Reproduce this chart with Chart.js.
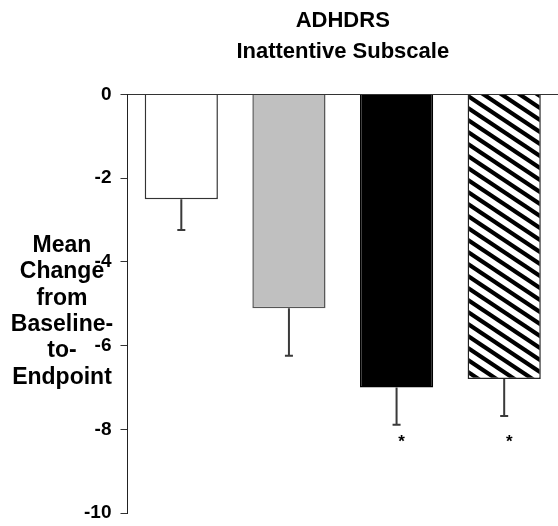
<!DOCTYPE html>
<html>
<head>
<meta charset="utf-8">
<script src="https://cdn.jsdelivr.net/npm/chart.js@4.4.0/dist/chart.umd.min.js"></script>
<style>
  body { margin: 0; background: #fff; }
</style>
</head>
<body>
<canvas id="myChart" width="558" height="526"></canvas>
<script>
var groups = ["Group 1", "Group 2", "Group 3", "Group 4"];
var meanChange = [-2.5, -5.11, -7.0, -6.8];
var errorSize = [0.74, 1.13, 0.89, 0.88];
var significance = ["", "", "*", "*"];
var yTickValues = [0, -2, -4, -6, -8, -10];
var titleLines = ["ADHDRS", "Inattentive Subscale"];
var yTitleLines = ["Mean", "Change", "from", "Baseline-", "to-", "Endpoint"];

var FONT = "'Liberation Sans', Arial, sans-serif";

// diagonal stripe fill for the last bar
function makeStripes() {
  var w = 18, h = 12;
  var c = document.createElement("canvas");
  c.width = w; c.height = h;
  var g = c.getContext("2d");
  g.fillStyle = "#fff";
  g.fillRect(0, 0, w, h);
  g.strokeStyle = "#000";
  g.lineWidth = 4.2;
  for (var k = -1; k <= 1; k++) {
    g.beginPath();
    g.moveTo(-w, k * h - h);
    g.lineTo(2 * w, k * h + 2 * h);
    g.stroke();
  }
  return g.createPattern(c, "repeat");
}

var barColors = ["#ffffff", "#c0c0c0", "#000000", makeStripes()];
var borderColors = ["#333333", "#555555", "#000000", "#222222"];

var errorBars = {
  id: "errorBars",
  afterDatasetsDraw: function (chart) {
    var ctx = chart.ctx;
    var y = chart.scales.y;
    var meta = chart.getDatasetMeta(0);
    ctx.save();
    ctx.strokeStyle = "#3a3a3a";
    ctx.lineWidth = 2;
    var lowest = 0;
    meta.data.forEach(function (bar, i) {
      var v = meanChange[i];
      var end = v - errorSize[i];
      if (end < lowest) lowest = end;
      var y0 = y.getPixelForValue(v);
      var y1 = y.getPixelForValue(end);
      ctx.beginPath();
      ctx.moveTo(bar.x, y0);
      ctx.lineTo(bar.x, y1);
      ctx.moveTo(bar.x - 4, y1);
      ctx.lineTo(bar.x + 4, y1);
      ctx.stroke();
    });
    // significance marks on a common row below the error bars
    ctx.fillStyle = "#000";
    ctx.font = "bold 17px " + FONT;
    ctx.textAlign = "center";
    ctx.textBaseline = "middle";
    var starY = y.getPixelForValue(lowest) + 15;
    meta.data.forEach(function (bar, i) {
      if (significance[i]) ctx.fillText(significance[i], bar.x + 5, starY + 3);
    });
    ctx.restore();
  }
};

var texts = {
  id: "texts",
  afterDraw: function (chart) {
    var ctx = chart.ctx;
    var a = chart.chartArea;
    ctx.save();
    ctx.fillStyle = "#000";
    ctx.textAlign = "center";
    ctx.textBaseline = "alphabetic";
    ctx.font = "bold 22px " + FONT;
    var cx = (a.left + a.right) / 2;
    titleLines.forEach(function (t, i) {
      ctx.fillText(t, cx, 27 + i * 31);
    });
    ctx.font = "bold 23px " + FONT;
    yTitleLines.forEach(function (t, i) {
      ctx.fillText(t, 62, a.top + 157.5 + i * 26.3);
    });
    ctx.restore();
  }
};

new Chart("myChart", {
  type: "bar",
  data: {
    labels: groups,
    datasets: [{
      data: meanChange,
      backgroundColor: barColors,
      borderColor: borderColors,
      borderWidth: 1.5,
      barPercentage: 0.68,
      categoryPercentage: 1
    }]
  },
  options: {
    responsive: false,
    animation: false,
    layout: { padding: { top: 94.5, bottom: 13, left: 0, right: 0 } },
    plugins: {
      legend: { display: false },
      title: { display: false },
      tooltip: { enabled: false }
    },
    scales: {
      x: { display: false },
      y: {
        min: -10,
        max: 0,
        afterBuildTicks: function (scale) {
          scale.ticks = yTickValues.map(function (v) { return { value: v }; });
        },
        afterFit: function (scale) {
          scale.width = 127.5;
          scale.paddingTop = 0;
          scale.paddingBottom = 0;
        },
        border: { display: true, color: "#222", width: 1 },
        grid: {
          drawOnChartArea: true,
          color: function (c) { return c.tick && c.tick.value === 0 ? "#333" : "rgba(0,0,0,0)"; },
          tickColor: "#333",
          tickLength: 7,
          lineWidth: 1
        },
        ticks: {
          color: "#000",
          padding: 9,
          font: { family: FONT, size: 19, weight: "bold" }
        }
      }
    }
  },
  plugins: [errorBars, texts]
});
</script>
</body>
</html>
